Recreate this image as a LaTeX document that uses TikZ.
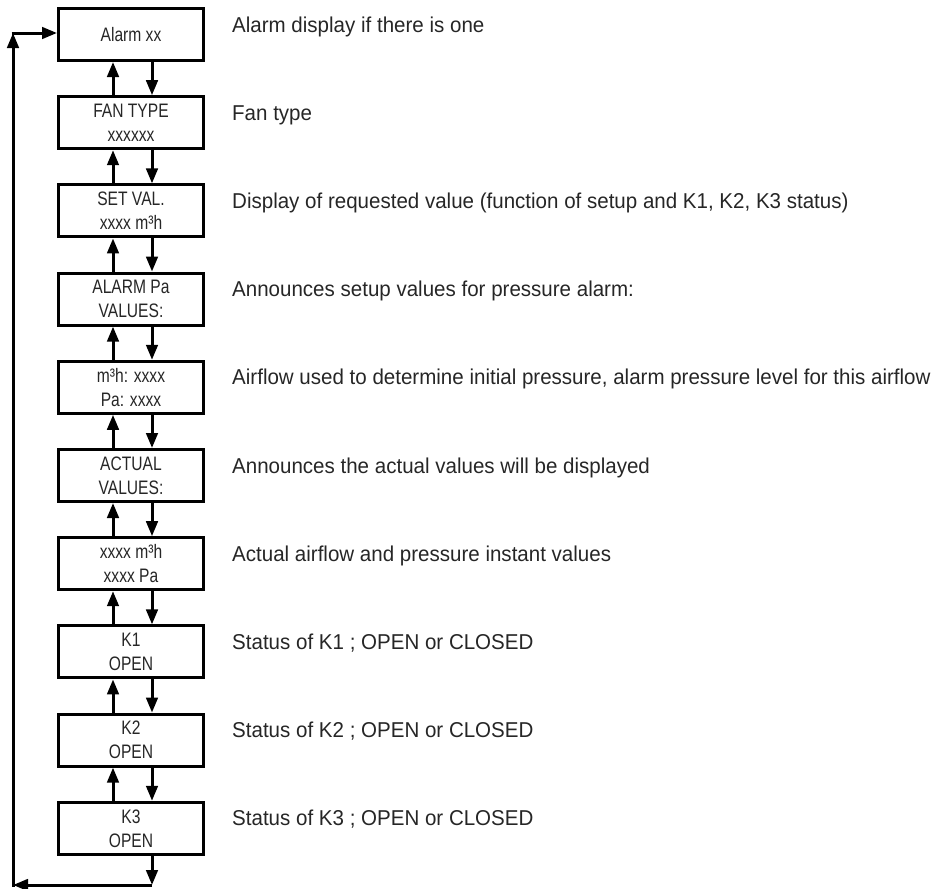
\documentclass[tikz,border=0pt]{standalone}
\usepackage{fontspec}
\usetikzlibrary{arrows.meta}
\newfontfamily\lblfont{Liberation Sans}[FakeStretch=0.955]
\newfontfamily\boxfont{Liberation Sans}[FakeStretch=0.80]
\begin{document}
\begin{tikzpicture}[x=1pt,y=-1pt,
  dbox/.style={draw=black, line width=3pt, minimum width=145pt, minimum height=52pt, inner sep=0pt,
    align=center, text=black!85, font=\boxfont\fontsize{19.5}{24}\selectfont},
  lbl/.style={anchor=base west, inner sep=0pt, text=black!85, font=\lblfont\fontsize{21.5}{24}\selectfont},
  conn/.style={line width=3pt, -{Triangle[length=15pt,width=11.5pt]}},
  plain/.style={line width=3pt}]
\useasboundingbox (0,0) rectangle (935,889);
\node[dbox] (b1) at (131,34.5) {Alarm xx};
\node[dbox] (b2) at (131,122.7) {FAN TYPE\\xxxxxx};
\node[dbox] (b3) at (131,210.9) {SET VAL.\\xxxx m³h};
\node[dbox] (b4) at (131,299.1) {ALARM Pa\\VALUES:};
\node[dbox] (b5) at (131,387.3) {m³h: xxxx\\Pa: xxxx};
\node[dbox] (b6) at (131,475.5) {ACTUAL\\VALUES:};
\node[dbox] (b7) at (131,563.7) {xxxx m³h\\xxxx Pa};
\node[dbox] (b8) at (131,651.9) {K1\\OPEN};
\node[dbox] (b9) at (131,740.1) {K2\\OPEN};
\node[dbox] (b10) at (131,828.3) {K3\\OPEN};
\node[lbl] (l1) at (232,32) {Alarm display if there is one};
\node[lbl] (l2) at (232,120.2) {Fan type};
\node[lbl] (l3) at (232,208.4) {Display of requested value (function of setup and K1, K2, K3 status)};
\node[lbl] (l4) at (232,296.6) {Announces setup values for pressure alarm:};
\node[lbl] (l5) at (232,384.8) {Airflow used to determine initial pressure, alarm pressure level for this airflow};
\node[lbl] (l6) at (232,473) {Announces the actual values will be displayed};
\node[lbl] (l7) at (232,561.2) {Actual airflow and pressure instant values};
\node[lbl] (l8) at (232,649.4) {Status of K1 ; OPEN or CLOSED};
\node[lbl] (l9) at (232,737.6) {Status of K2 ; OPEN or CLOSED};
\node[lbl] (l10) at (232,825.8) {Status of K3 ; OPEN or CLOSED};
\foreach \u/\d in {b1/b2,b2/b3,b3/b4,b4/b5,b5/b6,b6/b7,b7/b8,b8/b9,b9/b10}{
  \draw[conn] (\d.north -| 113,0) -- (\u.south -| 113,0);
  \draw[conn] (\u.south -| 152,0) -- (\d.north -| 152,0);
}
\coordinate (bot) at (152,885);
\coordinate (botleft) at (13,885);
\coordinate (topleft) at (13,33);
\draw[conn] (b10.south -| bot) -- (bot);
\draw[conn] (bot) -- (botleft);
\draw[plain] (botleft) ++(0,1.5) -- (botleft);
\draw[conn] (botleft) -- (topleft);
\draw[conn] ([xshift=-1.5pt]topleft) -- (b1.west |- topleft);
\end{tikzpicture}
\end{document}
